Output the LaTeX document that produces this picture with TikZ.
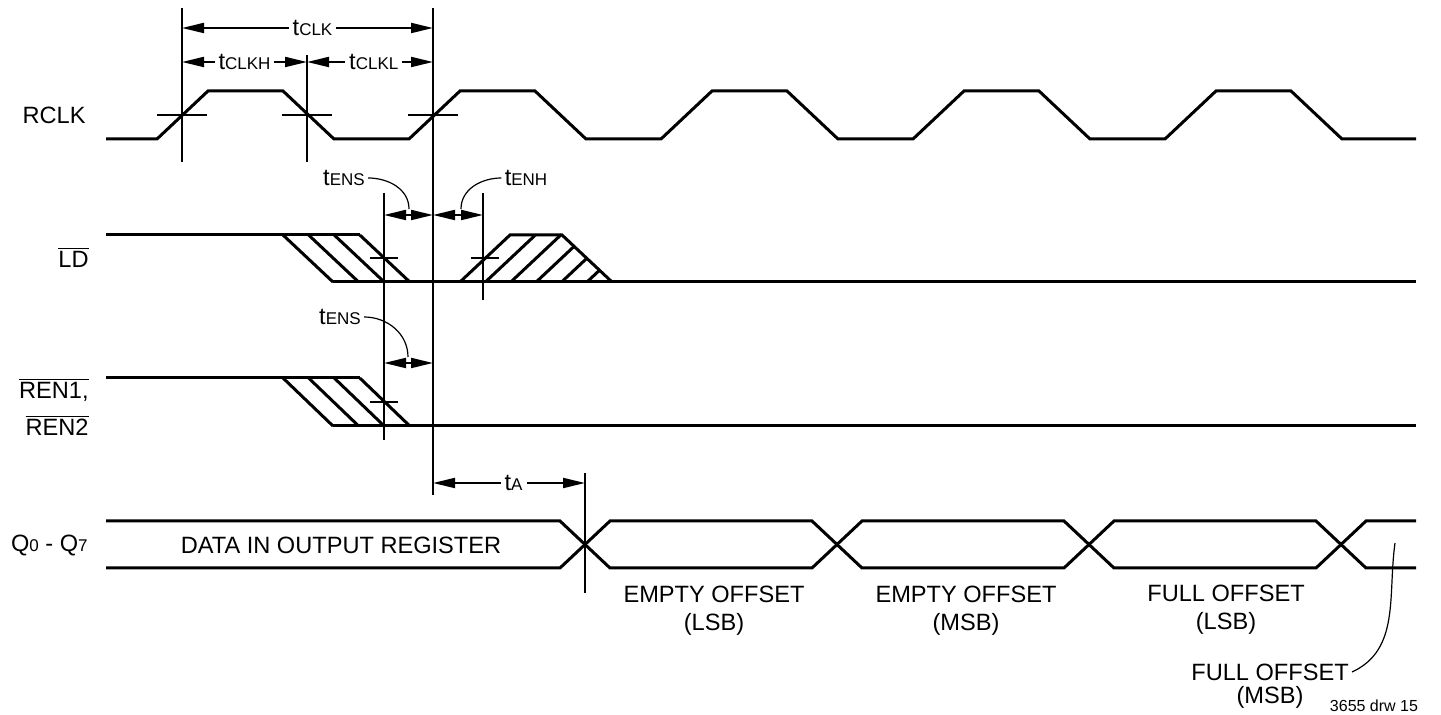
\documentclass[tikz,border=0pt]{standalone}
\usepackage{fontspec}
\setmainfont{Liberation Sans}
\usetikzlibrary{arrows.meta}

\newcommand{\tlab}[2]{#1{\fontsize{8.5}{10}\selectfont #2}}

\tikzset{
  wave/.style={line width=1.5pt, line join=miter},
  tline/.style={line width=1pt},
  tickln/.style={line width=1pt},
  dim/.style={line width=1pt, {Triangle[length=11pt,width=5pt]}-{Triangle[length=11pt,width=5pt]}},
  lead/.style={line width=0.6pt},
  lbl/.style={fill=white, inner sep=2pt},
  signame/.style={anchor=east, inner sep=0pt},
}

\begin{document}
\begin{tikzpicture}[x=0.5pt,y=-0.5pt]
  \tikzstyle{every node}=[font=\fontsize{11.8}{14}\selectfont]
  \useasboundingbox (0,0) rectangle (1441,715);

 % signal names
 \node[signame] (rclk) at (86,115) {RCLK};
 \node[signame] (ld) at (89,257) {$\overline{\mbox{LD}}$};
 \node[signame] (ren1) at (89,390) {$\overline{\mbox{REN1,}}$};
 \node[signame] (ren2) at (89,425) {$\overline{\mbox{REN2}}$};
 \node[signame] (q) at (88,545) {\tlab{Q}{0} - \tlab{Q}{7}};

 % timing reference points
 \coordinate (a1) at (182,8);    \coordinate (a2) at (182,162);
 \coordinate (b1) at (307,55);   \coordinate (b2) at (307,162);
 \coordinate (c1) at (433,8);    \coordinate (c2) at (433,495);
 \coordinate (s1) at (384,193);  \coordinate (s2) at (384,440);
 \coordinate (h1) at (483,193);  \coordinate (h2) at (483,300);
 \coordinate (o1) at (585,473);  \coordinate (o2) at (585,593);
 \draw[tline] (a1) -- (a2);
 \draw[tline] (b1) -- (b2);
 \draw[tline] (c1) -- (c2);
 \draw[tline] (s1) -- (s2);
 \draw[tline] (h1) -- (h2);
 \draw[tline] (o1) -- (o2);

 % RCLK
 \draw[wave] (106,139) foreach \k in {0,...,4} { -- ({157+252*\k},139) -- ({208+252*\k},91)
   -- ({283+252*\k},91) -- ({334+252*\k},139) } -- (1416,139);
 \foreach \x in {182,307,433} \draw[tickln] (\x-25,115) -- (\x+25,115);

 \draw[dim] (182,28) -- node[lbl,pos=0.52] (tclk) {\tlab{t}{CLK}} (433,28);
 \draw[dim] (182,62) -- node[lbl] (tclkh) {\tlab{t}{CLKH}} (307,62);
 \draw[dim] (307,62) -- node[lbl,pos=0.53] (tclkl) {\tlab{t}{CLKL}} (433,62);

 % LD
 \draw[wave] (106,235) -- (360,235);
 \foreach \i in {0,...,3} \draw[wave] ({283+25.6*\i},235) -- ++(50,47);
 \draw[wave] (333,282) -- (1416,282);
 \draw[wave] (460,282) -- (510,235) -- (562,235) -- (612,282);
 \begin{scope}
  \clip (460,282) -- (510,235) -- (562,235) -- (612,282) -- cycle;
  \foreach \i in {1,...,5} \draw[wave] ({460+25.4*\i},282) -- ++(50,-47);
 \end{scope}
 \draw[tickln] (370,258) -- (398,258);
 \draw[tickln] (471,258) -- (499,258);

 \draw[dim] (384,215) -- (433,215);
 \draw[dim] (433,215) -- (483,215);
 \node[inner sep=1.5pt] (tens1) at (344,178) {\tlab{t}{ENS}};
 \node[inner sep=1.5pt] (tenh) at (526,178) {\tlab{t}{ENH}};
 \coordinate (ens1end) at (409,209);
 \coordinate (enhend) at (461,209);
 \draw[lead] (tens1.east) to[out=0,in=90] (ens1end);
 \draw[lead] (tenh.west) to[out=180,in=90] (enhend);

 % REN1, REN2
 \draw[wave] (106,378) -- (360,378);
 \foreach \i in {0,...,3} \draw[wave] ({283+25.6*\i},378) -- ++(50,48);
 \draw[wave] (333,426) -- (1416,426);
 \draw[tickln] (370,402) -- (398,402);

 \draw[dim] (384,363) -- (433,363);
 \node[inner sep=1.5pt] (tens2) at (340,317) {\tlab{t}{ENS}};
 \coordinate (ens2end) at (408,357);
 \draw[lead] (tens2.east) to[out=0,in=90] (ens2end);

 % Q0 - Q7
 \draw[dim] (433,483) -- node[lbl,pos=0.53] (ta) {\tlab{t}{A}} (585,483);
 \draw[wave] (106,521) -- (560,521) -- (610,568) -- (812,568) -- (862,521) -- (1064,521)
   -- (1114,568) -- (1316,568) -- (1366,521) -- (1416,521);
 \draw[wave] (106,568) -- (560,568) -- (610,521) -- (812,521) -- (862,568) -- (1064,568)
   -- (1114,521) -- (1316,521) -- (1366,568) -- (1416,568);

 \node (data) at (341,545) {DATA IN OUTPUT REGISTER};
 \node[align=center] (elsb) at (714,611) {EMPTY OFFSET\\(LSB)};
 \node[align=center] (emsb) at (966,611) {EMPTY OFFSET\\(MSB)};
 \node[align=center] (flsb) at (1226,610) {FULL OFFSET\\(LSB)};
 \node[inner sep=1.5pt] (fmsb) at (1270,672) {FULL OFFSET};
 \node (fmsb2) at (1270,697) {(MSB)};
 \coordinate (fmsbend) at (1395,543);
 \draw[lead] (fmsb.east) to[out=25,in=-98] (fmsbend);

 \node[anchor=north, inner sep=0pt, font=\fontsize{8}{9}\selectfont] (drw) at (1374,700) {3655 drw 15};

\end{tikzpicture}
\end{document}
